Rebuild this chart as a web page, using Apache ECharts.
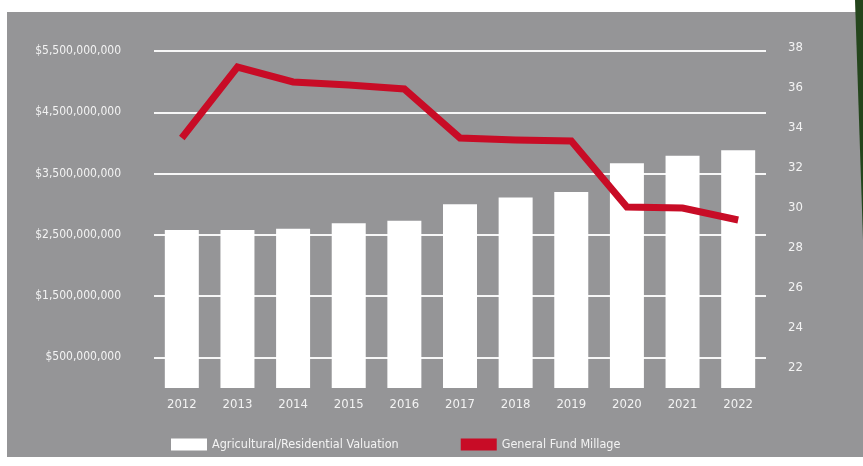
<!DOCTYPE html>
<html>
<head>
<meta charset="utf-8">
<script src="https://cdn.jsdelivr.net/npm/echarts@6/dist/echarts.min.js"></script>
<style>
  html, body { margin: 0; padding: 0; background: #fff; }
  body { width: 863px; height: 466px; position: relative; overflow: hidden; }
  #edge {
    position: absolute; left: 855px; top: 0; width: 8px; height: 240px;
    background: #24451c;
    clip-path: polygon(0 0, 100% 0, 100% 100%);
  }
  #chart {
    position: absolute; left: 7px; top: 12px; width: 856px; height: 445px;
    background: #959597;
  }
</style>
</head>
<body>
<div id="chart"></div>
<div id="edge"></div>
<script>
// 年份
const years = ['2012', '2013', '2014', '2015', '2016', '2017', '2018', '2019', '2020', '2021', '2022'];
// Agricultural/Residential Valuation ($)
const valuation = [2.58e9, 2.58e9, 2.60e9, 2.69e9, 2.73e9, 3.00e9, 3.11e9, 3.20e9, 3.67e9, 3.79e9, 3.88e9];
// General Fund Millage
const millage = [33.5, 37.05, 36.3, 36.15, 35.95, 33.5, 33.4, 33.35, 30.05, 30.0, 29.4];
// 刻度
const leftTicks = [0.5e9, 1.5e9, 2.5e9, 3.5e9, 4.5e9, 5.5e9];
const rightTicks = [22, 24, 26, 28, 30, 32, 34, 36, 38];

const font = "'Liberation Sans Narrow', 'DejaVu Sans Condensed', 'Open Sans', sans-serif";
const textColor = '#f3f3f3';

function money(v) {
  return '$' + String(Math.round(v)).replace(/\B(?=(\d{3})+(?!\d))/g, ',');
}

const chart = echarts.init(document.getElementById('chart'));
chart.setOption({
  animation: false,
  textStyle: { fontFamily: font },
  grid: {
    left: 147,
    right: 97,
    top: 36,
    bottom: 69
  },
  legend: {
    left: 159,
    top: 421,
    itemWidth: 36,
    itemHeight: 12,
    itemGap: 62,
    icon: 'rect',
    textStyle: { color: textColor, fontSize: 12.5, fontFamily: font },
    data: ['Agricultural/Residential Valuation', 'General Fund Millage']
  },
  xAxis: {
    type: 'category',
    data: years,
    axisLine: { show: false },
    axisTick: { show: false },
    axisLabel: { color: textColor, fontSize: 13, margin: 10, fontFamily: font }
  },
  yAxis: [{
    type: 'value',
    min: 0,
    max: 5.55e9,
    axisLine: { show: false },
    axisTick: { show: false, customValues: leftTicks },
    axisLabel: {
      customValues: leftTicks,
      color: textColor,
      fontSize: 12,
      margin: 33,
      fontFamily: font,
      formatter: money
    },
    splitLine: { lineStyle: { color: '#f7f7f7', width: 2 } }
  }, {
    type: 'value',
    min: 21,
    max: 38,
    axisLine: { show: false },
    axisTick: { show: false, customValues: rightTicks },
    axisLabel: {
      customValues: rightTicks,
      color: textColor,
      fontSize: 13,
      margin: 22,
      fontFamily: font
    },
    splitLine: { show: false }
  }],
  series: [{
    name: 'Agricultural/Residential Valuation',
    type: 'bar',
    data: valuation,
    barWidth: 34,
    itemStyle: { color: '#ffffff' }
  }, {
    name: 'General Fund Millage',
    type: 'line',
    yAxisIndex: 1,
    data: millage,
    symbol: 'none',
    z: 5,
    lineStyle: { color: '#c80c26', width: 7, join: 'miter' },
    itemStyle: { color: '#c80c26' }
  }]
});
</script>
</body>
</html>
